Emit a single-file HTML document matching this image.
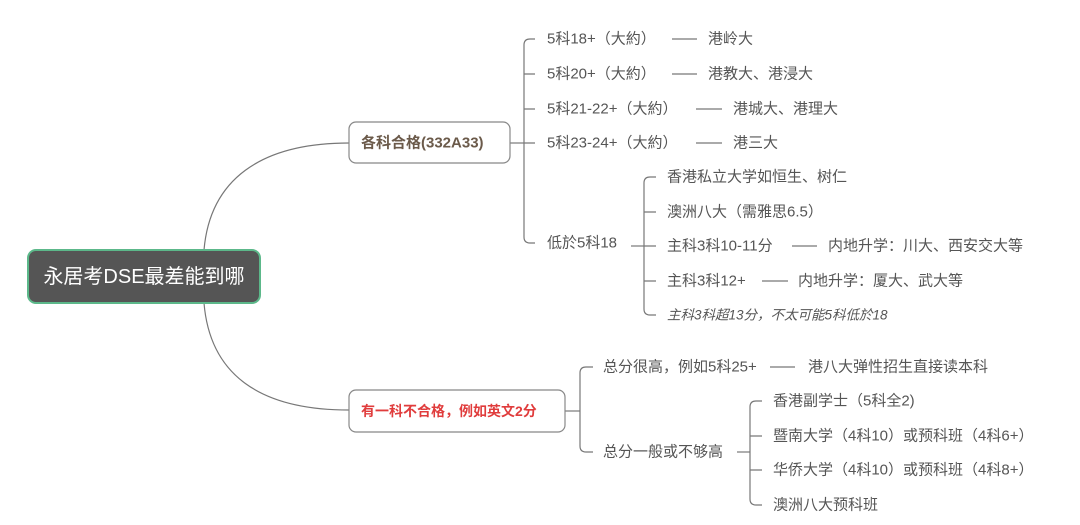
<!DOCTYPE html>
<html><head><meta charset="utf-8"><style>
html,body{margin:0;padding:0;background:#fff;width:1080px;height:525px;overflow:hidden}
text{font-family:"Liberation Sans","Noto Sans CJK SC",sans-serif;fill:#555;font-size:15px;dominant-baseline:central}
</style></head><body>
<svg width="1080" height="525" viewBox="0 0 1080 525" xmlns="http://www.w3.org/2000/svg">
<g fill="none" stroke="#777" stroke-width="1.2">
<path d="M204 250 C210 180 260 143 349 143"/>
<path d="M204 303 C210 375 260 410 349 410"/>
<path d="M510 143 H524"/>
<path d="M535 39 H530 Q524 39 524 45 V237 Q524 243 530 243 H535"/>
<path d="M524 74 H535 M524 109 H535 M524 143 H535"/>
<path d="M672 39 H697 M672 74 H697 M696 109 H722 M696 143 H722"/>
<path d="M631 246 H644"/>
<path d="M656 177 H650 Q644 177 644 183 V309 Q644 315 650 315 H656"/>
<path d="M644 212 H656 M644 246 H656 M644 281 H656"/>
<path d="M792 246 H817 M762 281 H788"/>
<path d="M565 411 H580"/>
<path d="M593 367 H586 Q580 367 580 373 V446 Q580 452 586 452 H593"/>
<path d="M770 367 H795"/>
<path d="M737 452 H750"/>
<path d="M762 401 H756 Q750 401 750 407 V499 Q750 505 756 505 H762"/>
<path d="M750 436 H762 M750 470 H762"/>
</g>
<rect x="28" y="250" width="232" height="53" rx="8" fill="#555" stroke="#5cb88a" stroke-width="2"/>
<text x="144" y="277" text-anchor="middle" style="fill:#fff;font-size:20px">永居考DSE最差能到哪</text>
<rect x="349" y="122" width="161" height="41" rx="7" fill="#fff" stroke="#888" stroke-width="1.2"/>
<text x="361" y="143" style="fill:#6b5a4a;font-size:15px;font-weight:bold">各科合格(332A33)</text>
<rect x="349" y="390" width="216" height="42" rx="7" fill="#fff" stroke="#888" stroke-width="1.2"/>
<text x="361" y="411" style="fill:#e03c3c;font-size:14px;font-weight:bold">有一科不合格，例如英文2分</text>
<text x="547" y="39">5科18+（大約）</text><text x="708" y="39">港岭大</text>
<text x="547" y="74">5科20+（大約）</text><text x="708" y="74">港教大、港浸大</text>
<text x="547" y="109">5科21-22+（大約）</text><text x="733" y="109">港城大、港理大</text>
<text x="547" y="143">5科23-24+（大約）</text><text x="733" y="143">港三大</text>
<text x="547" y="243">低於5科18</text>
<text x="667" y="177">香港私立大学如恒生、树仁</text>
<text x="667" y="212">澳洲八大（需雅思6.5）</text>
<text x="667" y="246">主科3科10-11分</text><text x="828" y="246">内地升学：川大、西安交大等</text>
<text x="667" y="281">主科3科12+</text><text x="798" y="281">内地升学：厦大、武大等</text>
<text x="667" y="315" style="font-style:italic;font-size:13.5px">主科3科超13分，不太可能5科低於18</text>
<text x="603" y="367">总分很高，例如5科25+</text><text x="808" y="367">港八大弹性招生直接读本科</text>
<text x="603" y="452">总分一般或不够高</text>
<text x="773" y="401">香港副学士（5科全2)</text>
<text x="773" y="436">暨南大学（4科10）或预科班（4科6+）</text>
<text x="773" y="470">华侨大学（4科10）或预科班（4科8+）</text>
<text x="773" y="505">澳洲八大预科班</text>
</svg>
</body></html>
